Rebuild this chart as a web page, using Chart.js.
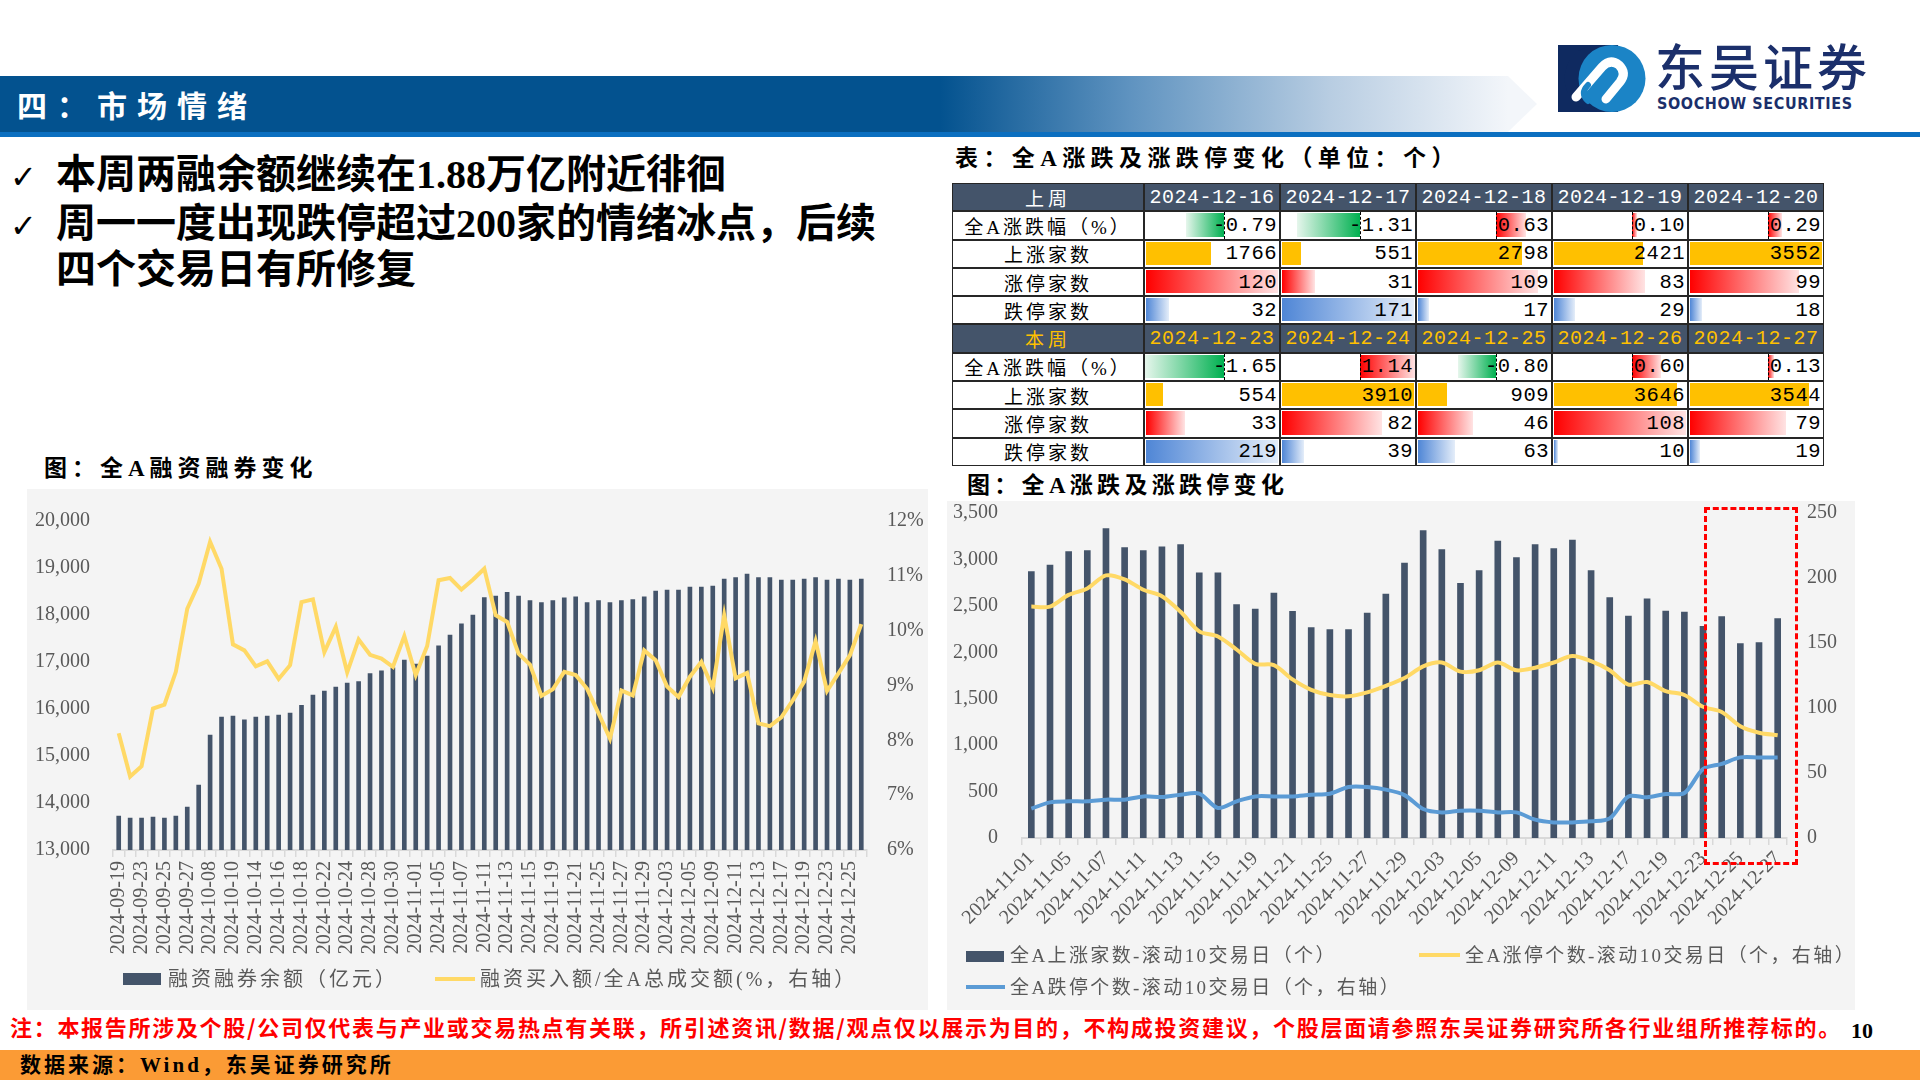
<!DOCTYPE html>
<html>
<head>
<meta charset="utf-8">
<script src="https://cdn.jsdelivr.net/npm/chart.js@4.4.1/dist/chart.umd.min.js"></script>
<style>
  body { margin: 0; width: 1920px; height: 1080px; position: relative; overflow: hidden; background: #fff; font-family: "Noto Sans CJK SC", sans-serif; }
  .abs { position: absolute; }
  .band { left: 0; top: 76px; width: 1537px; height: 56px;
    background: linear-gradient(to right, #03528f 0px, #03528f 940px, #5f93c0 1130px, #b8cde2 1330px, #f3f6fa 1508px, #f3f6fa 1537px);
    clip-path: polygon(0 0, 1508px 0, 1537px 28px, 1508px 56px, 0 56px); }
  .bandline { left: 0; top: 132px; width: 1920px; height: 5px; background: #0b6fc0; }
  .title { left: 17px; top: 82px; color: #fff; font-weight: 700; font-size: 30px; letter-spacing: 10px; line-height: 44px; }
  .brand { left: 1655px; top: 34px; color: #1b2f6b; font-size: 50px; letter-spacing: 4px; line-height: 60px; font-weight: 500; }
  .brand-en { left: 1657px; top: 95px; color: #1b2f6b; font-family: "DejaVu Sans Condensed", "DejaVu Sans"; font-weight: 700; font-size: 16px; letter-spacing: 0.6px; line-height: 18px; }
  .bullet { left: 10px; font-family: "Liberation Serif", "Noto Sans CJK SC"; font-weight: 700; font-size: 40px; line-height: 46px; color: #000; white-space: nowrap; }
  .bullet .ck { font-family: "DejaVu Sans"; font-weight: 700; font-size: 32px; display: inline-block; width: 46px; }
  .cap { font-family: "Liberation Serif", "Noto Sans CJK SC"; font-weight: 700; font-size: 23px; letter-spacing: 5px; line-height: 28px; color: #000; white-space: nowrap; }
  .panel { background: #f4f4f4; }
  .lg { font-family: "Liberation Serif", "Noto Sans CJK SC"; font-size: 19px; letter-spacing: 2.4px; color: #595959; line-height: 24px; white-space: nowrap; }
  .lg.big { font-size: 20px; letter-spacing: 3px; }
  .tbl { left: 952px; top: 183px; width: 872px; display: grid; background: #262626; padding: 1px; gap: 2px;
    grid-template-columns: 190px repeat(5, 134px); grid-auto-rows: 26.3px; box-sizing: border-box; }
  .cell { position: relative; background: #fff; overflow: hidden; display: flex; align-items: center; }
  .hd { background: #44546a; justify-content: center; }
  .lbl { justify-content: center; font-size: 19px; letter-spacing: 3px; font-family: "Liberation Serif", "Noto Sans CJK SC"; }
  .num { justify-content: flex-end; font-family: "Liberation Mono", monospace; font-size: 20.5px; letter-spacing: 0.5px; padding-right: 2px; }
  .num span, .hd span { position: relative; z-index: 2; }
  .dbar { position: absolute; top: 1px; bottom: 2px; z-index: 1; }
  .axis { position: absolute; top: 0; bottom: 0; width: 0; border-left: 1px dashed #000; z-index: 1; }
  .note { left: 10px; top: 1011px; color: #ff0000; font-weight: 700; font-size: 22px; letter-spacing: 1.7px; line-height: 30px; white-space: nowrap; }
  .foot { left: 0; top: 1050px; width: 1920px; height: 30px; background: #fb9b35; }
  .foottxt { left: 20px; top: 1051px; font-family: "Liberation Serif", "Noto Sans CJK SC"; font-weight: 700; font-size: 21px; letter-spacing: 3px; line-height: 28px; color: #000; white-space: nowrap; }
</style>
</head>
<body>
<div class="abs band"></div>
<div class="abs bandline"></div>
<div class="abs title">四：市场情绪</div>

<svg class="abs" style="left:1558px;top:45px" width="88" height="67" viewBox="0 0 88 67">
  <rect x="0" y="0" width="60" height="67" fill="#0f2a60"/>
  <circle cx="54" cy="33.5" r="33.5" fill="#1b84c6"/>
  <path d="M0 0 H40 A33.5 33.5 0 0 0 40 67 H0 Z" fill="#0f2a60"/>
  <path d="M18 52 L44 22 Q52 13 61 20 Q69 28 62 37 L48 54" stroke="#fff" stroke-width="9" fill="none" stroke-linecap="round" stroke-linejoin="round"/>
  <path d="M30 56 Q22 48 30 40" stroke="#1b84c6" stroke-width="6" fill="none" stroke-linecap="round"/>
</svg>
<div class="abs brand">东吴证券</div>
<div class="abs brand-en">SOOCHOW SECURITIES</div>

<div class="abs bullet" style="top:152px"><span class="ck">✓</span>本周两融余额继续在1.88万亿附近徘徊</div>
<div class="abs bullet" style="top:201px"><span class="ck">✓</span>周一一度出现跌停超过200家的情绪冰点，后续</div>
<div class="abs bullet" style="top:247px"><span class="ck"></span>四个交易日有所修复</div>

<div class="abs cap" style="left:955px;top:145px;letter-spacing:5.4px">表：全A涨跌及涨跌停变化（单位：个）</div>
<div class="abs tbl" id="tbl"></div>

<div class="abs cap" style="left:44px;top:455px">图：全A融资融券变化</div>
<div class="abs cap" style="left:967px;top:472px;letter-spacing:4.3px">图：全A涨跌及涨跌停变化</div>

<div class="abs panel" style="left:27px;top:489px;width:901px;height:521px"></div>
<canvas class="abs" id="marginChart" width="901" height="521" style="left:27px;top:489px"></canvas>
<div class="abs" style="left:123px;top:973px;width:38px;height:12px;background:#44546a"></div>
<div class="abs lg big" style="left:168px;top:967px">融资融券余额（亿元）</div>
<div class="abs" style="left:435px;top:977px;width:40px;height:4px;background:#ffd966"></div>
<div class="abs lg big" style="left:480px;top:967px">融资买入额/全A总成交额(%，右轴）</div>

<div class="abs panel" style="left:947px;top:501px;width:908px;height:509px"></div>
<canvas class="abs" id="breadthChart" width="908" height="509" style="left:947px;top:501px"></canvas>
<div class="abs" style="left:1704px;top:507px;width:94px;height:358px;border:3px dashed #ff0000;box-sizing:border-box"></div>
<div class="abs" style="left:966px;top:951px;width:38px;height:11px;background:#44546a"></div>
<div class="abs lg" style="left:1010px;top:944px">全A上涨家数-滚动10交易日（个）</div>
<div class="abs" style="left:1419px;top:953px;width:41px;height:4px;background:#ffd966"></div>
<div class="abs lg" style="left:1465px;top:944px">全A涨停个数-滚动10交易日（个，右轴）</div>
<div class="abs" style="left:966px;top:985px;width:39px;height:4px;background:#5b9bd5"></div>
<div class="abs lg" style="left:1010px;top:976px">全A跌停个数-滚动10交易日（个，右轴）</div>

<div class="abs note">注：本报告所涉及个股/公司仅代表与产业或交易热点有关联，所引述资讯/数据/观点仅以展示为目的，不构成投资建议，个股层面请参照东吴证券研究所各行业组所推荐标的。</div>
<div class="abs" style="left:1851px;top:1018px;font-family:'Liberation Serif';font-size:22px;font-weight:700">10</div>
<div class="abs foot"></div>
<div class="abs foottxt">数据来源：Wind，东吴证券研究所</div>

<script>
// ---- margin chart data ----
const marginDates = ['2024-09-19','2024-09-20','2024-09-23','2024-09-24','2024-09-25','2024-09-26','2024-09-27','2024-09-30',
  '2024-10-08','2024-10-09','2024-10-10','2024-10-11','2024-10-14','2024-10-15','2024-10-16','2024-10-17','2024-10-18',
  '2024-10-21','2024-10-22','2024-10-23','2024-10-24','2024-10-25','2024-10-28','2024-10-29','2024-10-30','2024-10-31',
  '2024-11-01','2024-11-04','2024-11-05','2024-11-06','2024-11-07','2024-11-08','2024-11-11','2024-11-12','2024-11-13',
  '2024-11-14','2024-11-15','2024-11-18','2024-11-19','2024-11-20','2024-11-21','2024-11-22','2024-11-25','2024-11-26',
  '2024-11-27','2024-11-28','2024-11-29','2024-12-02','2024-12-03','2024-12-04','2024-12-05','2024-12-06','2024-12-09',
  '2024-12-10','2024-12-11','2024-12-12','2024-12-13','2024-12-16','2024-12-17','2024-12-18','2024-12-19','2024-12-20',
  '2024-12-23','2024-12-24','2024-12-25','2024-12-26'];
const marginBalance = [13723,13680,13680,13700,13680,13723,13914,14382,15445,15828,15849,15771,15828,15849,15870,15913,
  16076,16296,16380,16466,16551,16586,16756,16813,16877,17040,16955,17125,17344,17571,17812,17996,18372,18400,18485,
  18400,18308,18266,18308,18365,18386,18266,18308,18266,18308,18330,18386,18507,18528,18528,18592,18592,18613,18762,
  18797,18868,18797,18797,18741,18741,18762,18797,18741,18762,18741,18762];
const marginBuyRatio = [8.13,7.34,7.53,8.58,8.65,9.25,10.40,10.86,11.62,11.13,9.75,9.64,9.35,9.44,9.12,9.37,10.52,10.57,
  9.61,10.07,9.24,9.84,9.56,9.49,9.34,9.90,9.19,9.72,10.92,10.96,10.75,10.93,11.13,10.28,10.16,9.58,9.38,8.81,8.93,9.25,
  9.19,8.94,8.49,8.03,8.91,8.82,9.64,9.46,8.98,8.79,9.16,9.43,8.96,10.28,9.13,9.23,8.31,8.26,8.42,8.73,9.07,9.81,8.90,
  9.22,9.55,10.12];

// ---- breadth chart data ----
const breadthDates = ['2024-11-01','2024-11-04','2024-11-05','2024-11-06','2024-11-07','2024-11-08','2024-11-11','2024-11-12',
  '2024-11-13','2024-11-14','2024-11-15','2024-11-18','2024-11-19','2024-11-20','2024-11-21','2024-11-22','2024-11-25',
  '2024-11-26','2024-11-27','2024-11-28','2024-11-29','2024-12-02','2024-12-03','2024-12-04','2024-12-05','2024-12-06',
  '2024-12-09','2024-12-10','2024-12-11','2024-12-12','2024-12-13','2024-12-16','2024-12-17','2024-12-18','2024-12-19',
  '2024-12-20','2024-12-23','2024-12-24','2024-12-25','2024-12-26','2024-12-27'];
const upCount10d = [2868,2940,3084,3094,3331,3127,3094,3137,3159,2857,2857,2513,2466,2638,2441,2265,2244,2244,2423,2628,
  2962,3310,3105,2743,2879,3198,3019,3159,3116,3209,2879,2588,2391,2577,2445,2434,2279,2384,2093,2104,2362];
const limitUp10d = [178,178,187,192,202,199,191,186,174,159,155,145,134,133,122,114,110,109,112,117,123,132,135,128,129,
  135,129,131,135,140,136,129,118,120,113,110,101,97,86,81,79];
const limitDown10d = [22.6,27.4,28.2,28.2,29.5,29.5,32,31.5,33.3,34.1,23.1,28.2,32,32,32,33.3,34.1,39.2,39.2,37.2,33,22.3,
  19.7,21,21,19.7,19.7,14.1,12,12,12.8,15.1,32,31.3,33.8,34.6,53,57,62,62,62];

// ---- table data ----
const lastWeekDates = ['2024-12-16','2024-12-17','2024-12-18','2024-12-19','2024-12-20'];
const lastWeekChg = [-0.79,-1.31,0.63,0.10,0.29];
const lastWeekUp = [1766,551,2798,2421,3552];
const lastWeekLimitUp = [120,31,109,83,99];
const lastWeekLimitDown = [32,171,17,29,18];
const thisWeekDates = ['2024-12-23','2024-12-24','2024-12-25','2024-12-26','2024-12-27'];
const thisWeekChg = [-1.65,1.14,-0.80,0.60,0.13];
const thisWeekUp = [554,3910,909,3646,3544];
const thisWeekLimitUp = [33,82,46,108,79];
const thisWeekLimitDown = [219,39,63,10,19];
const rowNames = ['全A涨跌幅（%）','上涨家数','涨停家数','跌停家数'];

// build the table with excel-like data bars
const tbl = document.getElementById('tbl');
const allChg = lastWeekChg.concat(thisWeekChg);
const chgMin = Math.min(...allChg), chgMax = Math.max(...allChg);
const chgRange = chgMax - chgMin;
const axisPos = -chgMin / chgRange;

function addCell(cls, html) {
  const d = document.createElement('div');
  d.className = 'cell ' + cls;
  d.innerHTML = html;
  tbl.appendChild(d);
  return d;
}

function addWeek(weekName, dates, chg, up, limUp, limDown, color) {
  addCell('hd', `<span style="color:${color};font-size:19px;letter-spacing:4px">${weekName}</span>`);
  dates.forEach(d => addCell('hd', `<span style="color:${color};font-family:'Liberation Mono';font-size:20px;letter-spacing:0.5px">${d}</span>`));

  addCell('lbl', rowNames[0]);
  chg.forEach(v => {
    const w = Math.abs(v) / chgRange * 100;
    let bar;
    if (v < 0) {
      bar = `<div class="dbar" style="left:${(axisPos * 100 - w)}%;width:${w}%;background:linear-gradient(to left,#00b050,#e6f6ec)"></div>`;
    } else {
      bar = `<div class="dbar" style="left:${axisPos * 100}%;width:${w}%;background:linear-gradient(to right,#ff0000,#ffe3e3)"></div>`;
    }
    addCell('num', bar + `<div class="axis" style="left:${axisPos * 100}%"></div><span>${v.toFixed(2)}</span>`);
  });

  const rows = [[up, 'solid'], [limUp, 'red'], [limDown, 'blue']];
  rows.forEach((r, ri) => {
    addCell('lbl', rowNames[ri + 1]);
    const mx = Math.max(...r[0]);
    r[0].forEach(v => {
      const w = v / mx * 100;
      let bg = '#ffc000';
      if (r[1] === 'red') bg = 'linear-gradient(to right,#ff0000,#ffe3e3)';
      if (r[1] === 'blue') bg = 'linear-gradient(to right,#4f86d6,#e4edf9)';
      addCell('num', `<div class="dbar" style="left:1px;width:calc(${w}% - 2px);background:${bg}"></div><span>${v}</span>`);
    });
  });
}

addWeek('上周', lastWeekDates, lastWeekChg, lastWeekUp, lastWeekLimitUp, lastWeekLimitDown, '#ffffff');
addWeek('本周', thisWeekDates, thisWeekChg, thisWeekUp, thisWeekLimitUp, thisWeekLimitDown, '#ffc000');

// ---- charts ----
const tickFont = { family: 'Liberation Serif', size: 20 };
const tickColor = '#595959';

// y axes: tick marks hidden, tickLength used only as the gap between labels and plot
function valueAxis(pos, min, max, step, gap, width, fmt) {
  return {
    position: pos, min: min, max: max,
    grid: { display: false, drawTicks: true, tickLength: gap },
    border: { display: false },
    ticks: { stepSize: step, padding: 0, color: tickColor, font: tickFont, callback: fmt },
    afterFit: s => { s.width = width; }
  };
}

new Chart(document.getElementById('marginChart'), {
  type: 'bar',
  data: {
    labels: marginDates,
    datasets: [
      {
        type: 'line',
        label: '融资买入额/全A总成交额(%，右轴）',
        data: marginBuyRatio,
        yAxisID: 'y1',
        borderColor: '#ffd966',
        borderWidth: 4,
        pointRadius: 0,
        tension: 0,
        order: 0
      },
      {
        label: '融资融券余额（亿元）',
        data: marginBalance,
        yAxisID: 'y',
        backgroundColor: '#44546a',
        barThickness: 4,
        order: 1
      }
    ]
  },
  options: {
    responsive: false,
    animation: false,
    devicePixelRatio: 1,
    layout: { padding: { top: 32, left: 0, right: 0, bottom: 0 } },
    plugins: { legend: { display: false }, tooltip: { enabled: false } },
    scales: {
      x: {
        grid: { display: true, drawOnChartArea: false, drawTicks: true, tickLength: 7, color: '#d9d9d9', lineWidth: 1.5, offset: true },
        border: { color: '#d9d9d9', width: 2 },
        ticks: {
          autoSkip: false, minRotation: 90, maxRotation: 90, padding: 4,
          color: tickColor, font: tickFont,
          callback: (v, i) => (i % 2 === 0 ? marginDates[i] : '')
        },
        afterFit: s => { s.height = 160; }
      },
      y: valueAxis('left', 13000, 20000, 1000, 23, 86, v => v.toLocaleString('en-US')),
      y1: valueAxis('right', 6, 12, 1, 20, 61, v => v + '%')
    }
  }
});

new Chart(document.getElementById('breadthChart'), {
  type: 'bar',
  data: {
    labels: breadthDates,
    datasets: [
      {
        type: 'line',
        label: '全A涨停个数-滚动10交易日（个，右轴）',
        data: limitUp10d,
        yAxisID: 'y1',
        borderColor: '#ffd966',
        borderWidth: 4,
        pointRadius: 0,
        tension: 0.3,
        order: 0
      },
      {
        type: 'line',
        label: '全A跌停个数-滚动10交易日（个，右轴）',
        data: limitDown10d,
        yAxisID: 'y1',
        borderColor: '#5b9bd5',
        borderWidth: 4,
        pointRadius: 0,
        tension: 0.3,
        order: 0
      },
      {
        label: '全A上涨家数-滚动10交易日（个）',
        data: upCount10d,
        yAxisID: 'y',
        backgroundColor: '#44546a',
        barThickness: 6,
        order: 1
      }
    ]
  },
  options: {
    responsive: false,
    animation: false,
    devicePixelRatio: 1,
    layout: { padding: { top: 12, left: 0, right: 0, bottom: 0 } },
    plugins: { legend: { display: false }, tooltip: { enabled: false } },
    scales: {
      x: {
        grid: { display: true, drawOnChartArea: false, drawTicks: true, tickLength: 7, color: '#d9d9d9', lineWidth: 1.5, offset: true },
        border: { color: '#d9d9d9', width: 2 },
        ticks: {
          autoSkip: false, minRotation: 45, maxRotation: 45, padding: 2,
          color: tickColor, font: tickFont,
          callback: (v, i) => (i % 2 === 0 ? breadthDates[i] : '')
        },
        afterFit: s => { s.height = 172; }
      },
      y: valueAxis('left', 0, 3500, 500, 24, 75, v => v.toLocaleString('en-US')),
      y1: valueAxis('right', 0, 250, 50, 20, 68, v => v)
    }
  }
});
</script>
</body>
</html>
